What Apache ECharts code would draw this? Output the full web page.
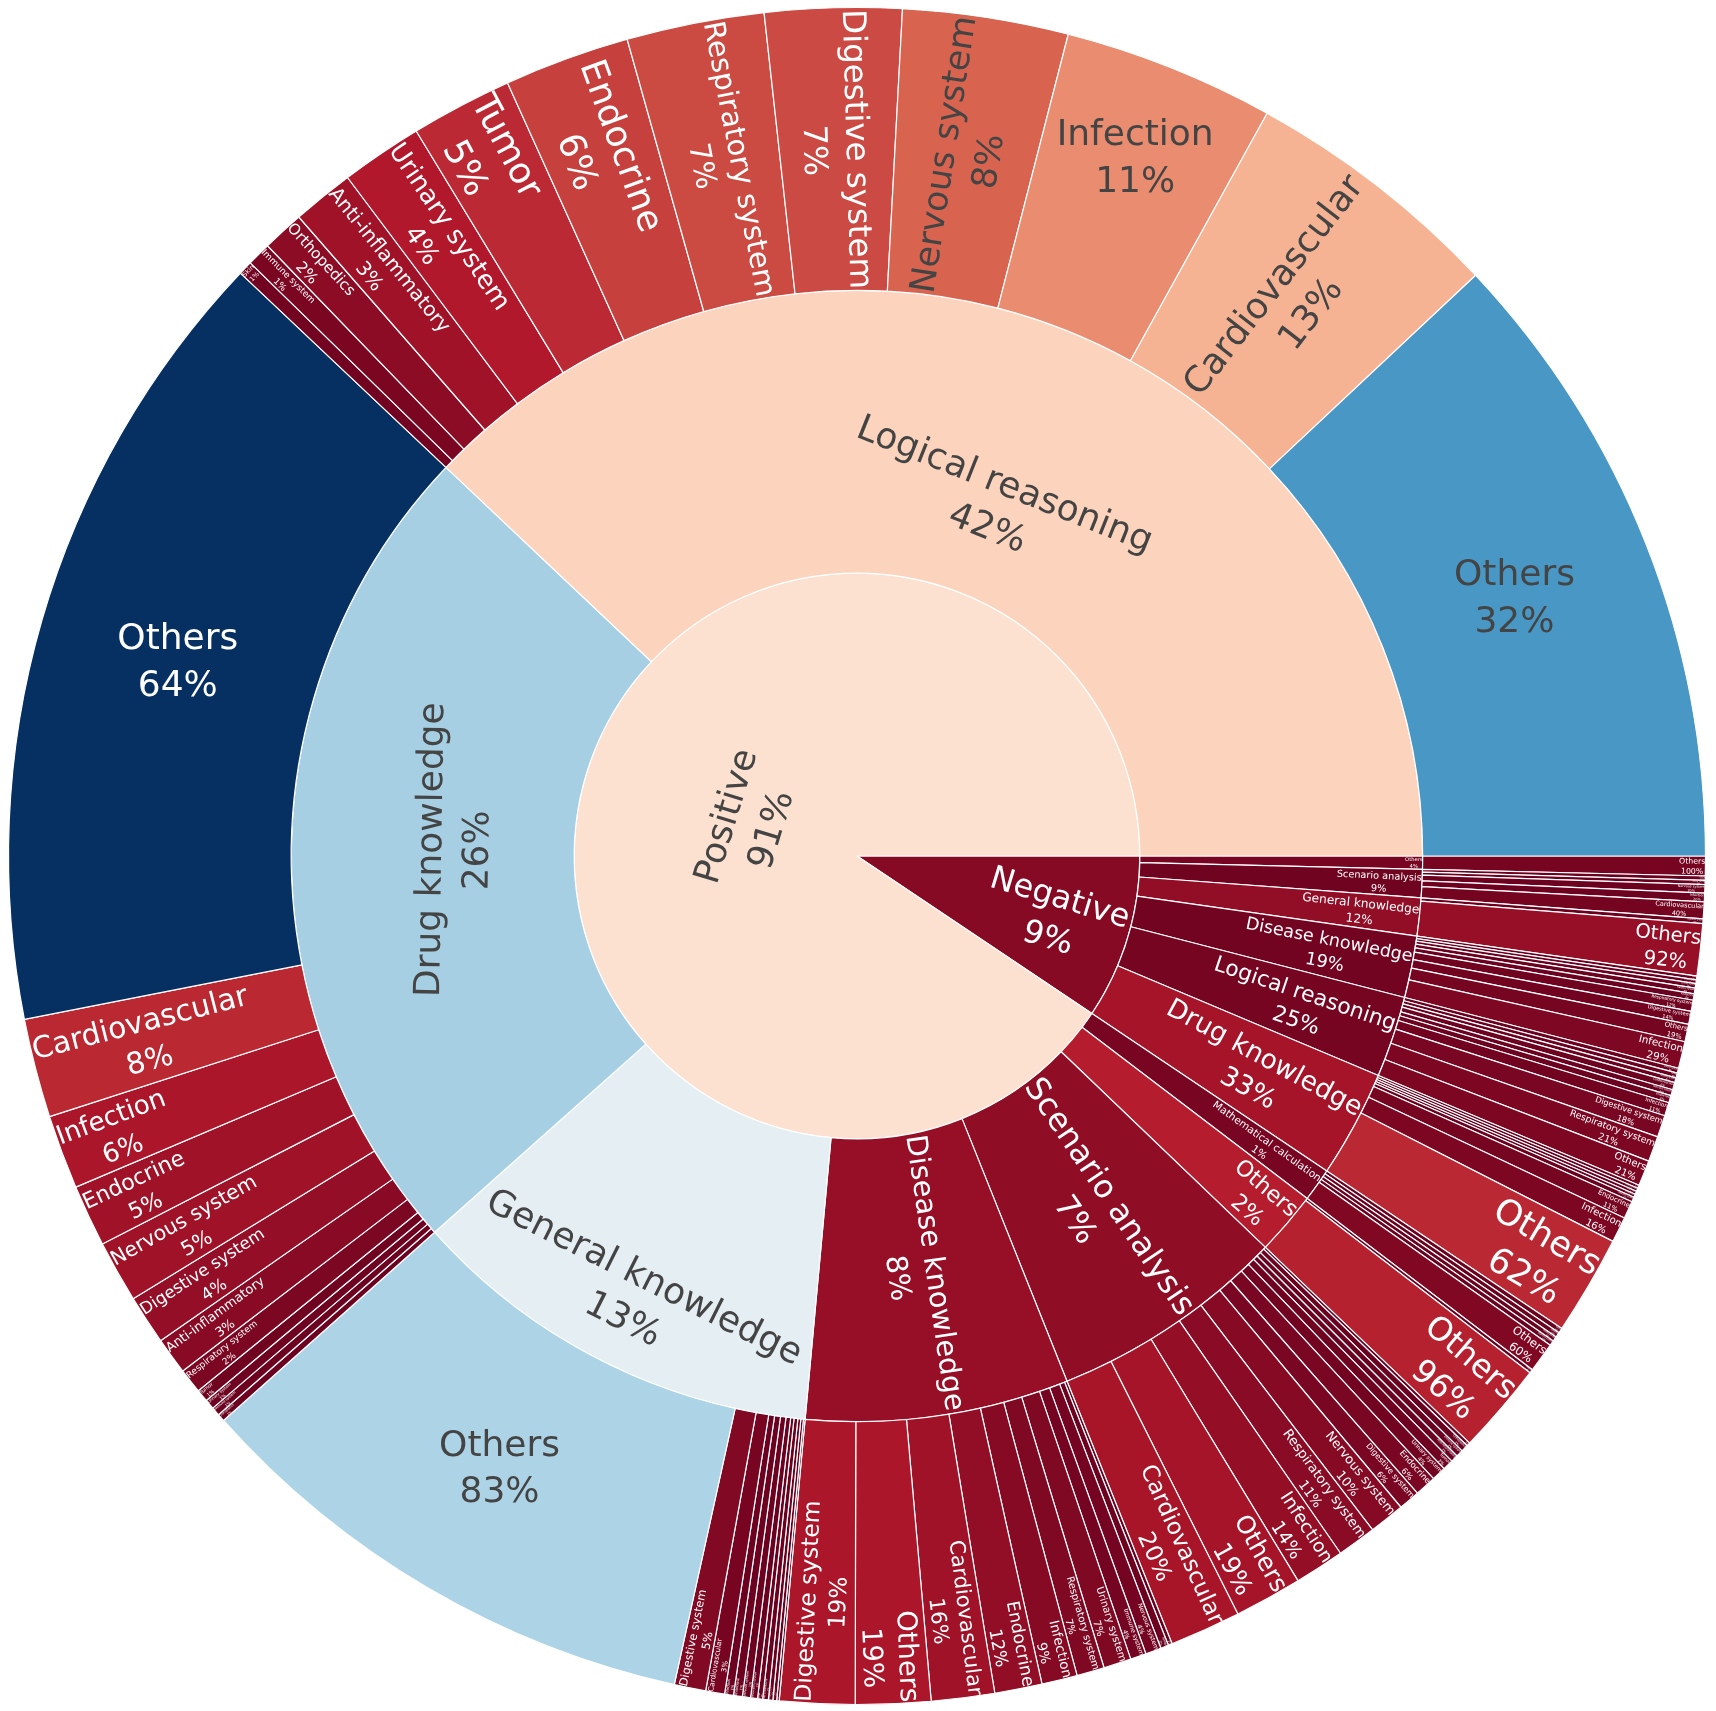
<!DOCTYPE html>
<html>
<head>
<meta charset="utf-8">
<title>Sunburst</title>
<script src="https://cdn.jsdelivr.net/npm/echarts@6/dist/echarts.min.js"></script>
<style>
  html, body { margin: 0; padding: 0; background: #fff; }
  #chart { width: 1716px; height: 1711px; }
</style>
</head>
<body>
<div id="chart"></div>
<script>
// every list runs clockwise from 3 o'clock, values are % of the parent
const topNames = ['Negative', 'Positive']
const topValues = [9.4, 90.6]

const negativeNames = ['Others', 'Scenario analysis', 'General knowledge', 'Disease knowledge', 'Logical reasoning', 'Drug knowledge']
const negativeValues = [4, 8.6, 11.5, 18.8, 24.7, 32.6]

const positiveNames = ['Mathematical calculation', 'Others', 'Scenario analysis', 'Disease knowledge', 'General knowledge', 'Drug knowledge', 'Logical reasoning']
const positiveValues = [1.05, 2, 7.49, 8.3, 13.2, 26.1, 41.9]

const negOthersNames = ['Others']
const negOthersValues = [100]
const negScenarioNames = ['Others', 'Urinary system', 'Nervous system', 'Infection', 'Cardiovascular']
const negScenarioValues = [10, 10, 20, 20, 40]
const negGeneralNames = ['Digestive system', 'Others']
const negGeneralValues = [8, 92]
const negDiseaseNames = ['Tumor', 'Immune system', 'Urinary system', 'Nervous system', 'Endocrine', 'Respiratory system', 'Digestive system', 'Others', 'Infection']
const negDiseaseValues = [4, 4, 5, 6, 7, 12, 14, 19, 29]
const negLogicalNames = ['Urinary system', 'Tumor', 'Immune system', 'Cardiovascular', 'Nervous system', 'Endocrine', 'Infection', 'Digestive system', 'Respiratory system', 'Others']
const negLogicalValues = [4, 4, 4, 6, 5, 6, 11, 18, 21, 21]
const negDrugNames = ['Tumor', 'Respiratory system', 'Urinary system', 'Nervous system', 'Digestive system', 'Endocrine', 'Infection', 'Others']
const negDrugValues = [2, 2, 2, 2, 3, 11, 16, 62]

const posMathNames = ['Tumor', 'Infection', 'Cardiovascular', 'Digestive system', 'Others']
const posMathValues = [10, 10, 10, 10, 60]
const posOthersNames = ['Infection', 'Others']
const posOthersValues = [4, 96]
const posScenarioNames = ['Skin', 'Orthopedics', 'Immune system', 'Anti-inflammatory', 'Tumor', 'Urinary system', 'Endocrine', 'Digestive system', 'Nervous system', 'Respiratory system', 'Infection', 'Others', 'Cardiovascular']
const posScenarioValues = [1, 2, 2, 2, 3, 4, 6, 6, 10, 11, 14, 19, 20]
const posDiseaseNames = ['Skin', 'Tumor', 'Nervous system', 'Immune system', 'Urinary system', 'Respiratory system', 'Infection', 'Endocrine', 'Cardiovascular', 'Others', 'Digestive system']
const posDiseaseValues = [1, 2, 4, 4, 7, 7, 9, 12, 16, 19, 19]
const posGeneralNames = ['Orthopedics', 'Immune system', 'Urinary system', 'Anti-inflammatory', 'Tumor', 'Respiratory system', 'Nervous system', 'Endocrine', 'Infection', 'Cardiovascular', 'Digestive system', 'Others']
const posGeneralValues = [0.4, 0.6, 0.7, 0.9, 0.8, 1.1, 1.3, 1.4, 1.4, 3, 5, 83]
const posDrugNames = ['Orthopedics', 'Immune system', 'Urinary system', 'Tumor', 'Respiratory system', 'Anti-inflammatory', 'Digestive system', 'Nervous system', 'Endocrine', 'Infection', 'Cardiovascular', 'Others']
const posDrugValues = [0.6, 0.7, 0.8, 1, 2, 3, 4, 5, 5, 6, 8, 64.3]
const posLogicalNames = ['Skin', 'Immune system', 'Orthopedics', 'Anti-inflammatory', 'Urinary system', 'Tumor', 'Endocrine', 'Respiratory system', 'Digestive system', 'Nervous system', 'Infection', 'Cardiovascular', 'Others']
const posLogicalValues = [0.7, 1.2, 2.1, 3.1, 4.1, 5.1, 6.3, 6.9, 6.85, 8.3, 10.6, 13.1, 31.6]

const rdBu = ['#67001f', '#b2182b', '#d6604d', '#f4a582', '#fddbc7', '#f7f7f7', '#d1e5f0', '#92c5de', '#4393c3', '#2166ac', '#053061']

const centerX = 857
const centerY = 856
const outerR = 848.5
const ringR = outerR / 3
const baseFont = 36
const lineGap = 1.3
const textPad = 3

function group(names, values, kids) {
  return names.map((name, i) => ({ name: name, share: values[i], kids: kids ? kids[i] : null }))
}

const tree = group(topNames, topValues, [
  group(negativeNames, negativeValues, [
    group(negOthersNames, negOthersValues),
    group(negScenarioNames, negScenarioValues),
    group(negGeneralNames, negGeneralValues),
    group(negDiseaseNames, negDiseaseValues),
    group(negLogicalNames, negLogicalValues),
    group(negDrugNames, negDrugValues)
  ]),
  group(positiveNames, positiveValues, [
    group(posMathNames, posMathValues),
    group(posOthersNames, posOthersValues),
    group(posScenarioNames, posScenarioValues),
    group(posDiseaseNames, posDiseaseValues),
    group(posGeneralNames, posGeneralValues),
    group(posDrugNames, posDrugValues),
    group(posLogicalNames, posLogicalValues)
  ])
])

// absolute size of each node, then its colour number: leaf = size, parent = size weighted mean
function measure(nodes, scale) {
  const total = nodes.reduce((s, n) => s + n.share, 0)
  nodes.forEach(n => {
    n.size = scale * n.share / total
    if (n.kids) {
      measure(n.kids, n.size)
      n.colorValue = n.kids.reduce((s, k) => s + k.size * k.colorValue, 0) / n.size
    } else {
      n.colorValue = n.size
    }
  })
}
measure(tree, 1)

const leaves = []
function collect(nodes) {
  nodes.forEach(n => n.kids ? collect(n.kids) : leaves.push(n.size))
}
collect(tree)
const maxLeaf = Math.max.apply(null, leaves)
const minLeaf = Math.min.apply(null, leaves)

const ctx = document.createElement('canvas').getContext('2d')
ctx.font = baseFont + 'px "DejaVu Sans"'

// picks horizontal, tangential or radial and the scale so the text fits its slice
function halfSize(a, half, r, ring) {
  const q = a + 1 / (2 * Math.tan(half))
  return r * Math.min(1 / (Math.sqrt(q * q + 0.5) + q), ring / (Math.sqrt(a * a + ring / 2) + a))
}

function fitText(w, h, r, ring, half, mid) {
  const inscribed = Math.max(0, Math.min(1 / (1 + 1 / Math.sin(half)), ring / 2))
  const flat = { scale: inscribed * r * 2 / Math.sqrt(w * w + h * h), rCenter: 1 - inscribed, rotate: 0 }
  if (flat.scale >= 1) return flat
  const padded = Math.max(0, r - 2 * textPad)

  const aTan = h / w
  const sTan = halfSize(aTan, half, padded, ring)
  const tan = {
    scale: sTan * 2 / w,
    rCenter: Math.cos(sTan / padded) - aTan * sTan / padded,
    rotate: ((mid + Math.PI / 2) * 180 / Math.PI + 720) % 180 - 90
  }
  const aRad = w / h
  const sRad = halfSize(aRad, half, padded, ring)
  const rad = {
    scale: sRad * 2 / h,
    rCenter: Math.cos(sRad / padded) - aRad * sRad / padded,
    rotate: (mid * 180 / Math.PI + 720) % 180 - 90
  }
  let best = flat
  if (tan.scale > best.scale) best = tan
  if (rad.scale > best.scale) best = rad
  return best
}

function labelFor(node, start, end, depth, fill) {
  const pct = Math.round(node.share) + '%'
  const w = Math.max(ctx.measureText(node.name).width, ctx.measureText(pct).width)
  const h = baseFont * (lineGap + 1.164)
  const r1 = ringR * (depth + 1)
  const r0 = ringR * depth
  const ring = 1 - r0 / r1
  let delta = end - start
  if (delta > Math.PI) delta -= Math.PI * 2
  const mid = (start + end) / 2 + Math.PI / 2
  const fit = fitText(w, h, r1, ring, delta / 2, mid)
  const scale = Math.min(1, fit.scale)
  const fontSize = baseFont * scale
  const lineHeight = fontSize * lineGap

  // the series puts a label at mid ring, padding moves it along to the fitted radius
  const shift = fit.rCenter * r1 - (r0 + r1) / 2
  const theta = (start + end) / 2
  const dx = shift * Math.cos(theta)
  const dy = shift * Math.sin(theta)
  const rho = -fit.rotate * Math.PI / 180
  const lx = dx * Math.cos(rho) - dy * Math.sin(rho)
  const ly = dx * Math.sin(rho) + dy * Math.cos(rho)

  const c = echarts.color.parse(fill)
  const light = (c[0] * 299 + c[1] * 587 + c[2] * 114) / 1000 > 128
  return {
    formatter: node.name + '\n' + pct,
    fontSize: fontSize,
    lineHeight: lineHeight,
    rotate: -fit.rotate,
    color: light ? '#444444' : '#ffffff',
    // top aligned, since zrender only honours vertical padding then
    verticalAlign: 'top',
    padding: [ly - lineHeight + 0.1 * fontSize, Math.max(0, -2 * lx), 0, Math.max(0, 2 * lx)]
  }
}

function toSeries(nodes, start, depth) {
  let angle = start
  return nodes.map(n => {
    const span = n.size * Math.PI * 2
    const t = (n.colorValue - minLeaf) / (maxLeaf - minLeaf)
    const fill = echarts.color.lerp(t, rdBu)
    const item = {
      name: n.name,
      itemStyle: { color: fill },
      label: labelFor(n, angle, angle + span, depth, fill)
    }
    if (n.kids) item.children = toSeries(n.kids, angle, depth + 1)
    else item.value = n.size
    angle += span
    return item
  })
}

const chart = echarts.init(document.getElementById('chart'))
chart.setOption({
  backgroundColor: '#ffffff',
  animation: false,
  series: [
    {
      type: 'sunburst',
      center: [centerX, centerY],
      radius: [0, outerR],
      startAngle: 0,
      clockwise: true,
      sort: null,
      nodeClick: false,
      emphasis: { disabled: true },
      itemStyle: { borderColor: '#ffffff', borderWidth: 1.2 },
      label: { fontFamily: '"DejaVu Sans"', align: 'center', position: 'inside', minAngle: 0 },
      data: toSeries(tree, 0, 0)
    }
  ]
})
</script>
</body>
</html>
